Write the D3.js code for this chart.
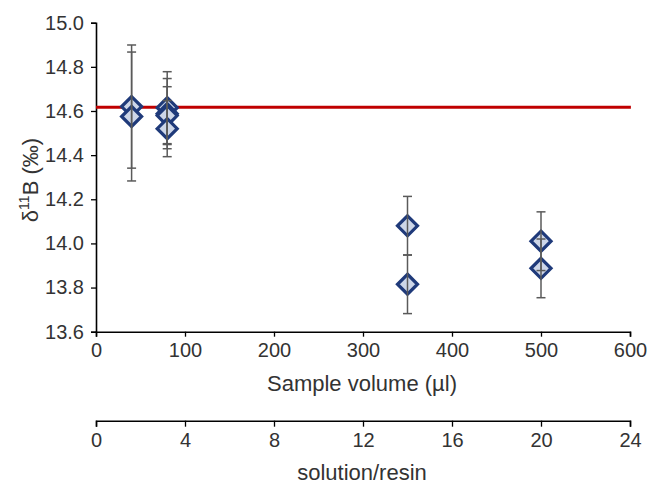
<!DOCTYPE html>
<html><head><meta charset="utf-8">
<script src="https://cdn.jsdelivr.net/npm/d3@7"></script>
<style>body{margin:0;background:#fff;} svg{font-family:"Liberation Sans",Arial,sans-serif;}</style>
</head><body>
<svg id="c" width="649" height="484"></svg>
<script>
// Data
const sampleVolume = [40, 40, 80, 80, 80, 80, 350, 350, 500, 500];
const delta11B     = [14.62, 14.575, 14.615, 14.588, 14.579, 14.52, 14.08, 13.815, 14.01, 13.887];
const errors       = [0.279, 0.292, 0.163, 0.159, 0.131, 0.127, 0.133, 0.133, 0.133, 0.133];
const referenceValue = 14.617;
const yTicks = [13.6, 13.8, 14.0, 14.2, 14.4, 14.6, 14.8, 15.0];
const xTicks = [0, 100, 200, 300, 400, 500, 600];
const ratioTicks = [0, 4, 8, 12, 16, 20, 24];

const svg = d3.select("#c");
const L = 96, R = 630, T = 22.7, B = 331.7;
const x = d3.scaleLinear().domain([0, 600]).range([L, R]);
const x2 = d3.scaleLinear().domain([0, 24]).range([L, R]);
const y = d3.scaleLinear().domain([13.6, 15.0]).range([B, T]);

const axisColor = "#000";
const fs = "20px";
const txt = "#333";

// y axis
const ya = svg.append("g").attr("transform", `translate(${L},0)`)
  .call(d3.axisLeft(y).tickValues(yTicks).tickFormat(d3.format(".1f")).tickSizeOuter(0).tickSize(5).tickPadding(7));
// x axis
const xa = svg.append("g").attr("transform", `translate(0,${B})`)
  .call(d3.axisBottom(x).tickValues(xTicks).tickSizeOuter(0).tickSize(5).tickPadding(6));
// second axis
const xa2 = svg.append("g").attr("transform", `translate(0,420.7)`)
  .call(d3.axisBottom(x2).tickValues(ratioTicks).tickSizeOuter(0).tickSize(6).tickPadding(6));
[ya, xa, xa2].forEach(g => {
  g.select(".domain").attr("stroke", axisColor).attr("stroke-width", 1.6);
  g.selectAll(".tick line").attr("stroke", axisColor).attr("stroke-width", 1.3);
  g.selectAll(".tick text").attr("font-size", fs).attr("fill", txt)
   .attr("font-family", '"Liberation Sans",Arial,sans-serif');
});

// axis titles
svg.append("text").attr("x", 362).attr("y", 391).attr("text-anchor", "middle")
  .attr("font-size", "22px").attr("fill", txt).text("Sample volume (µl)");
svg.append("text").attr("x", 362).attr("y", 480).attr("text-anchor", "middle")
  .attr("font-size", "22px").attr("fill", txt).text("solution/resin");
const yt = svg.append("text").attr("transform", "translate(38,180) rotate(-90)")
  .attr("text-anchor", "middle").attr("font-size", "22px").attr("fill", txt);
yt.append("tspan").text("δ");
yt.append("tspan").attr("font-size", "14px").attr("dy", -9).text("11");
yt.append("tspan").attr("dy", 9).text("B (‰)");

// reference line
svg.append("line").attr("x1", L).attr("x2", x(601)).attr("y1", y(referenceValue)).attr("y2", y(referenceValue))
  .attr("stroke", "#c00000").attr("stroke-width", 3);

const pts = sampleVolume.map((v, i) => ({x: v, y: delta11B[i], e: errors[i]}));

// markers
const r = 10;
svg.append("g").selectAll("path").data(pts).join("path")
  .attr("d", d => `M${x(d.x)},${y(d.y)-r}L${x(d.x)+r},${y(d.y)}L${x(d.x)},${y(d.y)+r}L${x(d.x)-r},${y(d.y)}Z`)
  .attr("fill", "#cdd6e8").attr("stroke", "#1f3a7a").attr("stroke-width", 3.2).attr("stroke-linejoin", "miter");

// error bars
const eb = svg.append("g").attr("stroke", "#5a5a5a").attr("stroke-width", 1.5);
pts.forEach(d => {
  const cx = x(d.x);
  eb.append("line").attr("x1", cx).attr("x2", cx).attr("y1", y(d.y + d.e)).attr("y2", y(d.y - d.e));
  [d.y + d.e, d.y - d.e].forEach(v => {
    eb.append("line").attr("x1", cx - 4.5).attr("x2", cx + 4.5).attr("y1", y(v)).attr("y2", y(v));
  });
});
</script>
</body></html>
